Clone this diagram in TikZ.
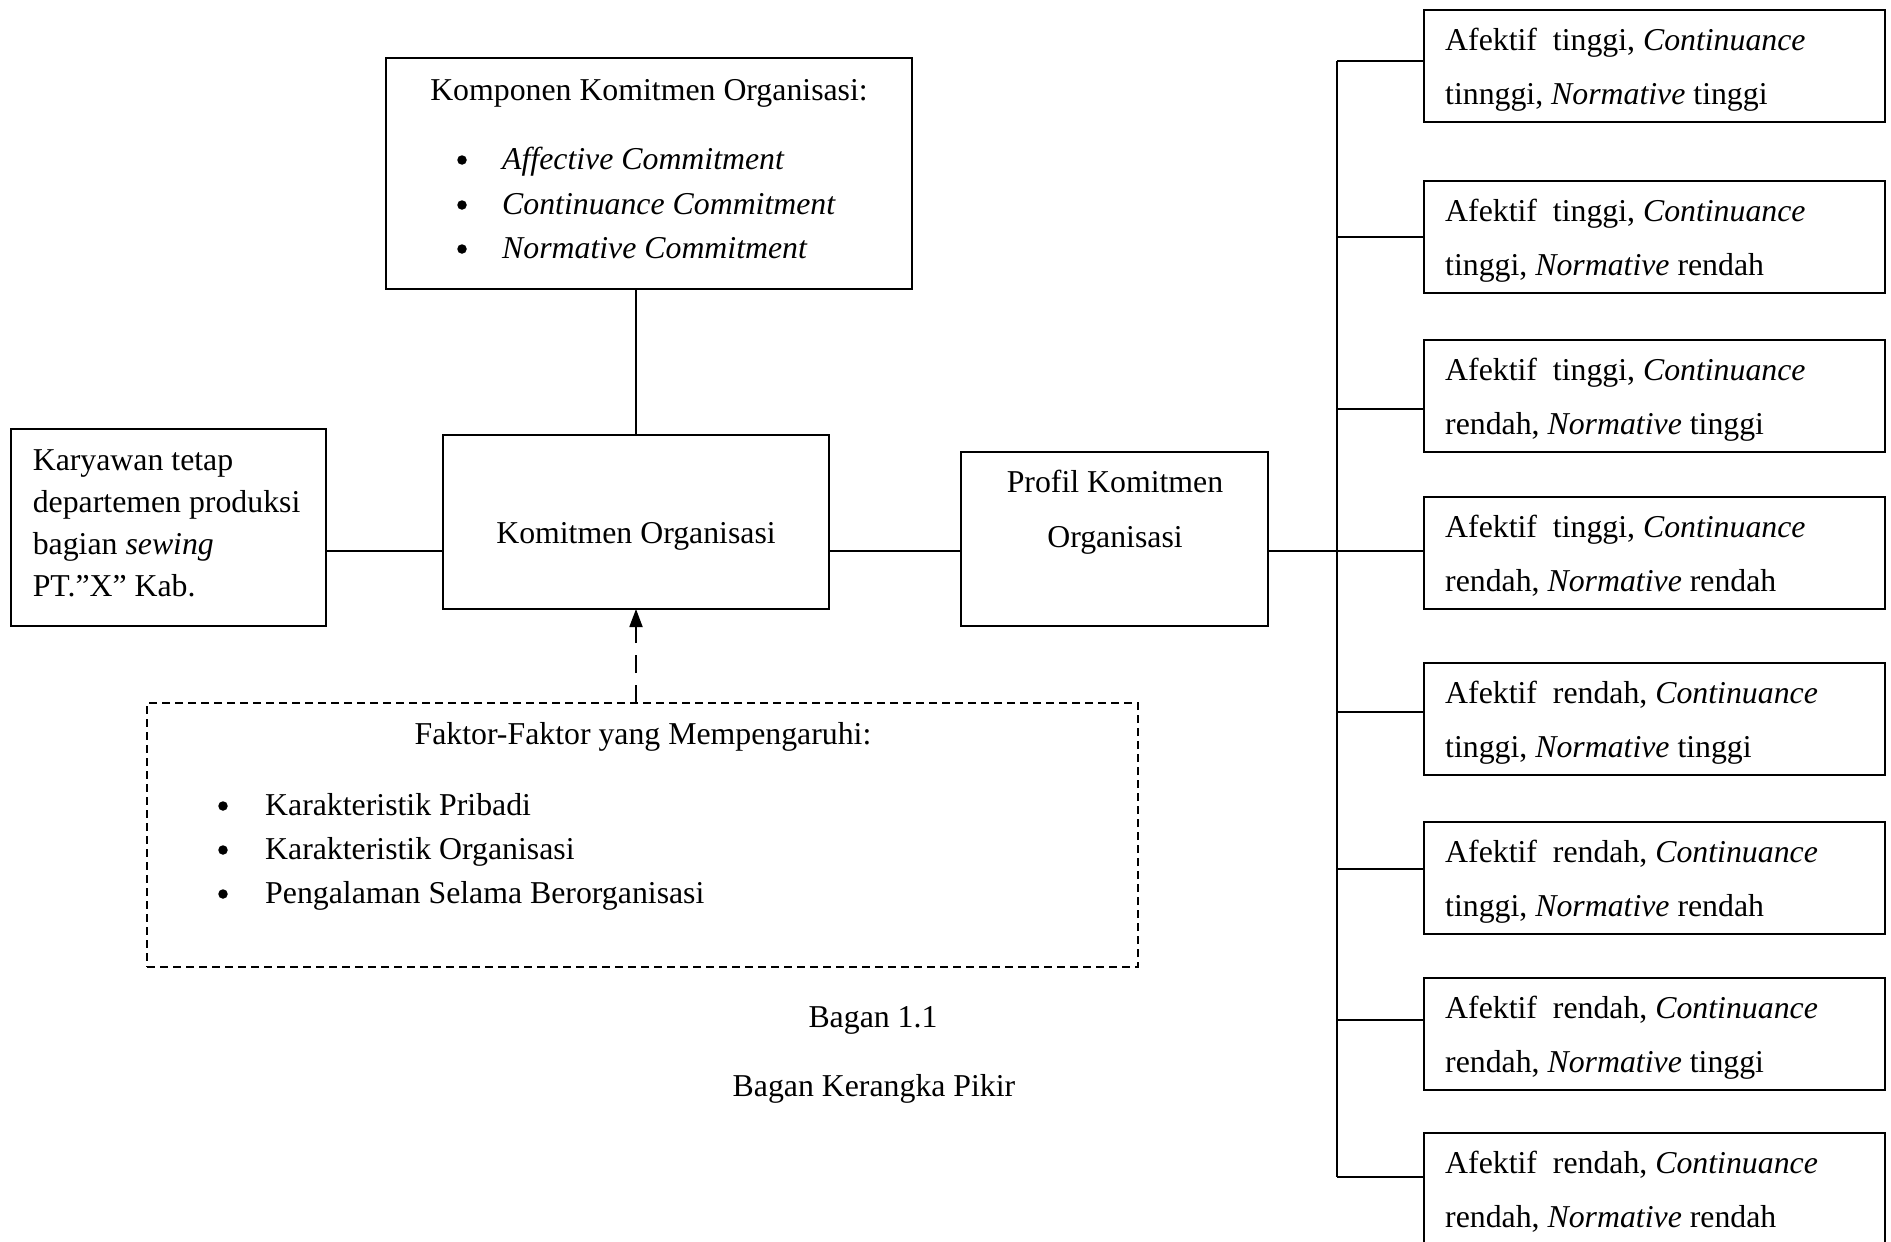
\documentclass[tikz,border=0pt]{standalone}
\usepackage{fontspec}
\setmainfont{Liberation Serif}
\usetikzlibrary{arrows.meta}
\begin{document}
\begin{tikzpicture}[x=1pt,y=-1pt,
  box/.style={draw, line width=1.8pt, inner sep=0pt, outer sep=0pt, anchor=north west},
  dbox/.style={box, dash pattern=on 8pt off 5pt},
  rbox/.style={box, minimum width=461pt, minimum height=112pt},
  txt/.style={font=\fontsize{31.8}{36}\selectfont, inner sep=0pt, anchor=base west},
  ctxt/.style={txt, anchor=base},
  bul/.style={circle, fill, inner sep=0pt, minimum size=9.5pt},
  ln/.style={line width=1.8pt}]
\useasboundingbox (0,0) rectangle (1891,1242);

% main boxes
\node[box, minimum width=315pt, minimum height=197pt] (kar) at (11,429) {};
\node[box, minimum width=386pt, minimum height=174pt] (kom) at (443,435) {};
\node[box, minimum width=526pt, minimum height=231pt] (komp) at (386,58) {};
\node[box, minimum width=307pt, minimum height=174pt] (prof) at (961,452) {};
\node[dbox, minimum width=991pt, minimum height=264pt] (fak) at (147,703) {};

% texts: Karyawan
\node[txt] (kar1) at (32.6,470) {Karyawan tetap};
\node[txt] (kar2) at (32.6,512) {departemen produksi};
\node[txt] (kar3) at (32.6,554) {bagian \textit{sewing}};
\node[txt] (kar4) at (32.6,596) {PT.”X” Kab.};

% Komitmen Organisasi
\node[ctxt] (komt) at (636,543) {Komitmen Organisasi};

% Komponen
\node[ctxt] (kompt) at (649,100) {Komponen Komitmen Organisasi:};
\node[bul] (kb1) at (462,160) {};
\node[bul] (kb2) at (462,205) {};
\node[bul] (kb3) at (462,249) {};
\node[txt] (ki1) at (502,169) {\textit{Affective Commitment}};
\node[txt] (ki2) at (502,214) {\textit{Continuance Commitment}};
\node[txt] (ki3) at (502,258) {\textit{Normative Commitment}};

% Profil
\node[ctxt] (prof1) at (1115,492) {Profil Komitmen};
\node[ctxt] (prof2) at (1115,547) {Organisasi};

% Faktor
\node[ctxt] (fakt) at (643,744) {Faktor-Faktor yang Mempengaruhi:};
\node[bul] (fb1) at (223,806) {};
\node[bul] (fb2) at (223,850) {};
\node[bul] (fb3) at (223,894) {};
\node[txt] (fi1) at (265,815) {Karakteristik Pribadi};
\node[txt] (fi2) at (265,859) {Karakteristik Organisasi};
\node[txt] (fi3) at (265,903) {Pengalaman Selama Berorganisasi};

% caption
\node[ctxt] (cap1) at (873,1027) {Bagan 1.1};
\node[ctxt] (cap2) at (874,1096) {Bagan Kerangka Pikir};

% right boxes
\foreach \i/\t/\a/\b/\c in {
  1/10/tinggi/tinnggi/tinggi,
  2/181/tinggi/tinggi/rendah,
  3/340/tinggi/rendah/tinggi,
  4/497/tinggi/rendah/rendah,
  5/663/rendah/tinggi/tinggi,
  6/822/rendah/tinggi/rendah,
  7/978/rendah/rendah/tinggi,
  8/1133/rendah/rendah/rendah}{
  \node[rbox] (r\i) at (1424,\t) {};
  \node[txt] (r\i a) at (1445,\t+40) {Afektif\ \ \a, \textit{Continuance}};
  \node[txt] (r\i b) at (1445,\t+94.5) {\b, \textit{Normative} \c};
}

% connectors
\coordinate (hl) at (0,551);
\draw[ln] (kar.east |- hl) -- (kom.west |- hl);
\draw[ln] (kom.east |- hl) -- (prof.west |- hl);
\draw[ln] (prof.east |- hl) -- (1337,551);
\draw[ln] (kom.north) -- (kom.north |- komp.south);
\draw[ln, dash pattern=on 18pt off 12pt, -{Triangle[length=18pt,width=13pt]}] (kom.south |- fak.north) -- (kom.south);

% trunk and branches
\foreach \i/\y in {1/61,2/237,3/409,4/551,5/712,6/869,7/1020,8/1177}{
  \coordinate (j\i) at (1337,\y);
  \draw[ln] (j\i) -- (j\i -| r\i.west);
}
\draw[ln] (j1) -- (j8);
\end{tikzpicture}
\end{document}
